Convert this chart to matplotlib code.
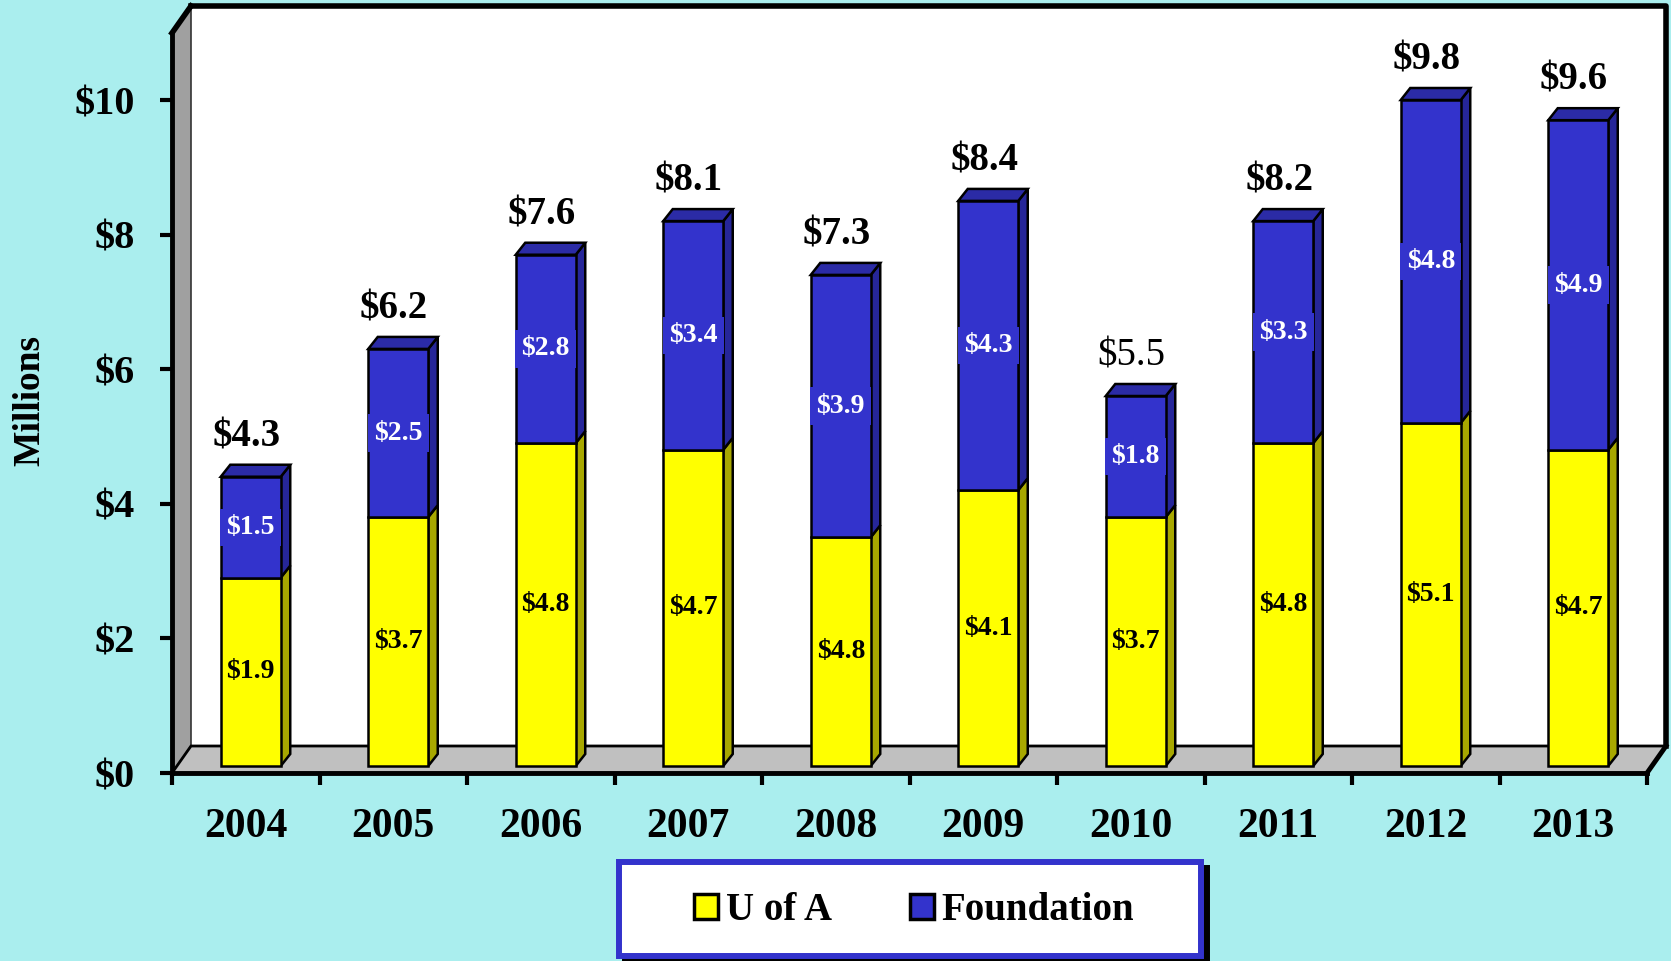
import matplotlib.pyplot as plt
import numpy as np
from matplotlib.patches import Patch, Polygon, Rectangle
from matplotlib.transforms import ScaledTranslation

years = ['2004', '2005', '2006', '2007', '2008', '2009', '2010', '2011', '2012', '2013']
uofa = [2.8, 3.7, 4.8, 4.7, 3.4, 4.1, 3.7, 4.8, 5.1, 4.7]
foundation = [1.5, 2.5, 2.8, 3.4, 3.9, 4.3, 1.8, 3.3, 4.8, 4.9]
uofa_labels = ['$1.9', '$3.7', '$4.8', '$4.7', '$4.8', '$4.1', '$3.7', '$4.8', '$5.1', '$4.7']
foundation_labels = ['$1.5', '$2.5', '$2.8', '$3.4', '$3.9', '$4.3', '$1.8', '$3.3', '$4.8', '$4.9']
total_labels = ['$4.3', '$6.2', '$7.6', '$8.1', '$7.3', '$8.4', '$5.5', '$8.2', '$9.8', '$9.6']
total_weights = ['bold'] * 6 + ['normal'] + ['bold'] * 3
y_ticks = [0, 2, 4, 6, 8, 10]

BG = '#AAEEEE'
YELLOW = '#FFFF00'
YELLOW_SIDE = '#A8A800'
BLUE = '#3333CC'
BLUE_SIDE = '#262699'
BLUE_TOP = '#2B2BA6'

plt.rcParams['font.family'] = ['Liberation Serif', 'DejaVu Serif']
plt.rcParams['font.weight'] = 'bold'

W, H = 1671, 961
fig = plt.figure(figsize=(W / 100, H / 100), dpi=100, facecolor=BG)
ax = fig.add_axes([172 / W, (H - 773) / H, 1475 / W, 740 / H])
ax.set_xlim(-0.5, 9.5)
ax.set_ylim(0, 11)
ax.patch.set_visible(False)

# depth of the wall/floor and of the bars, in data units
px_x = 147.5
px_y = 740 / 11
DX, DY = 19 / px_x, 27 / px_y
BDX, BDY = 9.5 / px_x, 12 / px_y
BW = 60 / px_x

# back wall, left wall and floor
ax.add_patch(Rectangle((-0.5 + DX, DY), 10, 11, fc='white', ec='none', zorder=0, clip_on=False))
ax.add_patch(Polygon([(-0.5, 0), (-0.5, 11), (-0.5 + DX, 11 + DY), (-0.5 + DX, DY)],
                     fc='#A0A0A0', ec='#333333', lw=1.2, zorder=1, clip_on=False))
ax.add_patch(Polygon([(-0.5, 0), (9.5, 0), (9.5 + DX, DY), (-0.5 + DX, DY)],
                     fc='#C0C0C0', ec='black', lw=2, zorder=1, clip_on=False))
ax.plot([-0.5 + DX, 9.5 + DX, 9.5 + DX], [11 + DY, 11 + DY, DY], color='black', lw=4,
        solid_capstyle='projecting', clip_on=False, zorder=2)
ax.plot([-0.5, -0.5 + DX], [11, 11 + DY], color='black', lw=4, clip_on=False, zorder=2)
ax.plot([9.5, 9.5 + DX], [0, DY], color='black', lw=3.5, clip_on=False, zorder=2)

# bars sit a little behind the front plane
off = ax.transData + ScaledTranslation(5 / 100, 7 / 100, fig.dpi_scale_trans)
x = np.arange(len(years))
uofa = np.array(uofa)
foundation = np.array(foundation)
total = uofa + foundation

for i in range(len(years)):
    xr = x[i] + BW / 2
    xl = x[i] - BW / 2
    for y0, y1, side in [(0, uofa[i], YELLOW_SIDE), (uofa[i], total[i], BLUE_SIDE)]:
        ax.add_patch(Polygon([(xr, y0), (xr + BDX, y0 + BDY), (xr + BDX, y1 + BDY), (xr, y1)],
                             fc=side, ec='black', lw=1.8, transform=off, zorder=3, clip_on=False))
    ax.add_patch(Polygon([(xl, total[i]), (xl + BDX, total[i] + BDY), (xr + BDX, total[i] + BDY),
                          (xr, total[i])], fc=BLUE_TOP, ec='black', lw=1.8, transform=off,
                         zorder=3, clip_on=False))

ax.bar(x, uofa, width=BW, color=YELLOW, edgecolor='black', lw=1.8, transform=off,
       zorder=4, clip_on=False)
ax.bar(x, foundation, bottom=uofa, width=BW, color=BLUE, edgecolor='black', lw=1.8,
       transform=off, zorder=4, clip_on=False)

for i in range(len(years)):
    ax.text(x[i], uofa[i] / 2, uofa_labels[i], transform=off, ha='center', va='center',
            fontsize=20, color='black', zorder=5)
    ax.text(x[i], uofa[i] + foundation[i] / 2, foundation_labels[i], transform=off,
            ha='center', va='center', fontsize=20, color='white', zorder=5,
            bbox=dict(boxstyle='square,pad=0.22', fc=BLUE, ec='none'))
    ax.annotate(total_labels[i], (x[i], total[i]), xycoords=off, xytext=(-3, 22),
                textcoords='offset points', ha='center', va='baseline', fontsize=28,
                fontweight=total_weights[i], color='black', annotation_clip=False)

for s in ['top', 'right']:
    ax.spines[s].set_visible(False)
for s in ['left', 'bottom']:
    ax.spines[s].set_linewidth(3.5)
    ax.spines[s].set_zorder(6)

ax.set_yticks(y_ticks)
ax.set_yticklabels([f'${v}' for v in y_ticks])
ax.tick_params(axis='y', direction='out', length=8.6, width=3, pad=18, labelsize=29)
ax.set_xticks(x)
ax.set_xticklabels(years)
ax.set_xticks(np.arange(-0.5, 10, 1), minor=True)
ax.tick_params(axis='x', which='major', length=0, pad=25, labelsize=30)
ax.tick_params(axis='x', which='minor', direction='out', length=8.6, width=3)

fig.text(30 / W, 1 - 400 / H, 'Millions', rotation=90, ha='center', va='center', fontsize=27)

# legend box with shadow
bx0, by0, bx1, by1 = 619, 862, 1201, 956
fig.patches.append(Rectangle(((bx0 + 6) / W, 1 - (by1 + 6) / H), (bx1 - bx0) / W, (by1 - by0) / H,
                             transform=fig.transFigure, fc='black', ec='black', lw=4.3, zorder=0))
fig.patches.append(Rectangle((bx0 / W, 1 - by1 / H), (bx1 - bx0) / W, (by1 - by0) / H,
                             transform=fig.transFigure, fc='white', ec=BLUE, lw=4.3, zorder=1))
handles = [Patch(fc=YELLOW, ec='black', lw=2.5), Patch(fc=BLUE, ec='black', lw=2.5)]
fig.legend(handles, ['U of A', 'Foundation'], loc='center', bbox_to_anchor=(914 / W, 1 - 911 / H),
           ncol=2, frameon=False, fontsize=28, handlelength=0.62, handleheight=0.62,
           handletextpad=0.2, columnspacing=2.0)

plt.savefig('out.png', dpi=100, facecolor=BG)
